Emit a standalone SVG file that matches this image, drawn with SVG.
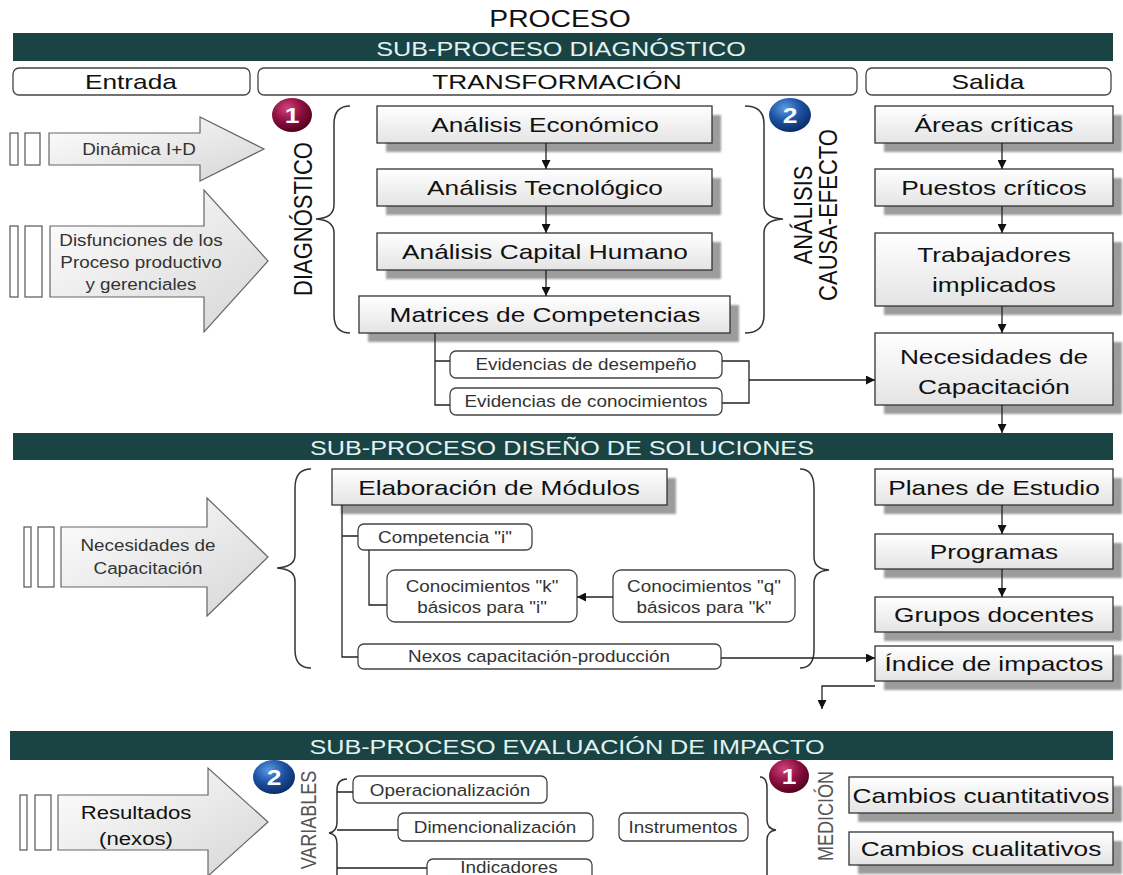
<svg xmlns="http://www.w3.org/2000/svg" width="1123" height="875" viewBox="0 0 1123 875">
<defs>
<style>
text{font-family:"Liberation Sans",Arial,sans-serif}
.tb{font-size:21px;fill:#111;text-anchor:middle;transform:scaleX(1.25);transform-box:fill-box;transform-origin:center}
.ts{font-size:17px;fill:#333;text-anchor:middle;transform:scaleX(1.11);transform-box:fill-box;transform-origin:center}
.tbar{font-size:21px;fill:#e4f2f2;text-anchor:middle;transform:scaleX(1.2);transform-box:fill-box;transform-origin:center}
.tnum{font-size:22px;font-weight:bold;fill:#fff;text-anchor:middle;transform:scaleX(1.2);transform-box:fill-box;transform-origin:center}
.tv{font-size:22px;fill:#111;text-anchor:middle}
.tvg{font-size:18px;fill:#555;text-anchor:middle}
.bar{fill:#1a4343}
.hdr{fill:#fff;stroke:#444;stroke-width:1.3}
.box{fill:url(#gBox);stroke:#333;stroke-width:1.3}
.sh{fill:#9c9c9c;filter:url(#blur)}
.rb{fill:#fff;stroke:#444;stroke-width:1.3}
.bigarrow{fill:url(#gArrow);stroke:#666;stroke-width:1.2}
.tick{fill:#fff;stroke:#555;stroke-width:1.2}
.conn{fill:none;stroke:#222;stroke-width:1.3}
.arr{marker-end:url(#ah)}
.brace{fill:none;stroke:#333;stroke-width:1.5}
</style>
<linearGradient id="gBox" x1="0" y1="0" x2="0" y2="1">
<stop offset="0" stop-color="#ffffff"/><stop offset="1" stop-color="#e4e4e4"/>
</linearGradient>
<linearGradient id="gArrow" x1="0" y1="0" x2="1" y2="1">
<stop offset="0" stop-color="#ffffff"/><stop offset="1" stop-color="#d6d6d6"/>
</linearGradient>
<radialGradient id="gRed" cx="0.38" cy="0.3" r="0.75">
<stop offset="0" stop-color="#d2437a"/><stop offset="0.5" stop-color="#8e1042"/><stop offset="1" stop-color="#4c0019"/>
</radialGradient>
<radialGradient id="gBlue" cx="0.38" cy="0.3" r="0.75">
<stop offset="0" stop-color="#5b9be3"/><stop offset="0.5" stop-color="#1d52a3"/><stop offset="1" stop-color="#0a2a62"/>
</radialGradient>
<filter id="blur" x="-5%" y="-20%" width="110%" height="140%"><feGaussianBlur stdDeviation="1.2"/></filter>
<marker id="ah" viewBox="0 0 10 10" refX="10" refY="5" markerWidth="10" markerHeight="9" markerUnits="userSpaceOnUse" orient="auto"><path d="M0,0 L10,5 L0,10 z" fill="#111"/></marker>
</defs>

<rect width="1123" height="875" fill="#fff"/>

<g id="title">
<text x="560" y="27" style="font-size:23px;fill:#111;text-anchor:middle;transform:scaleX(1.23);transform-box:fill-box;transform-origin:center">PROCESO</text>
</g>

<g id="bar1"><rect class="bar" x="13" y="33" width="1100" height="28"/><text class="tbar" x="561" y="56">SUB-PROCESO DIAGNÓSTICO</text></g>

<g id="hdr-entrada"><rect class="hdr" x="13" y="68" width="237" height="27" rx="6"/><text class="tb" x="131" y="89">Entrada</text></g>
<g id="hdr-transformacion"><rect class="hdr" x="258" y="68" width="599" height="27" rx="6"/><text class="tb" x="557" y="89">TRANSFORMACIÓN</text></g>
<g id="hdr-salida"><rect class="hdr" x="866" y="68" width="245" height="27" rx="6"/><text class="tb" x="988" y="89">Salida</text></g>

<!-- Section 1 inputs -->
<g id="in-dinamica">
<rect class="tick" x="10" y="133" width="8" height="32"/><rect class="tick" x="25" y="133" width="15" height="32"/>
<polygon class="bigarrow" points="49,133 200,133 200,117 264,149 200,181 200,165 49,165"/>
<text class="ts" x="139" y="155">Dinámica I+D</text>
</g>
<g id="in-disfunciones">
<rect class="tick" x="10" y="226" width="8" height="71"/><rect class="tick" x="25" y="226" width="17" height="71"/>
<polygon class="bigarrow" points="50,226 204,226 204,190 268,261 204,332 204,297 50,297"/>
<text class="ts" x="141" y="246">Disfunciones de los</text>
<text class="ts" x="141" y="268">Proceso productivo</text>
<text class="ts" x="141" y="290">y gerenciales</text>
</g>

<g id="badge1a"><ellipse cx="292" cy="115" rx="20" ry="17" fill="url(#gRed)"/><text class="tnum" x="292" y="123">1</text></g>
<g id="badge2a"><ellipse cx="790" cy="115" rx="21" ry="17" fill="url(#gBlue)"/><text class="tnum" x="790" y="123">2</text></g>

<g id="lbl-diagnostico">
<path class="brace" d="M350,106 Q334,106 334,124 L334,205 Q334,218 316,219 Q334,220 334,233 L334,315 Q334,333 350,333"/>
<text class="tv" transform="translate(312,219) rotate(-90) scale(1,1.2)" x="0" y="0">DIAGNÓSTICO</text>
</g>
<g id="lbl-causa">
<path class="brace" d="M745,106 Q764,106 764,124 L764,205 Q764,218 783,219 Q764,220 764,233 L764,315 Q764,333 745,333"/>
<text class="tv" transform="translate(812,215) rotate(-90) scale(1,1.2)" x="0" y="0">ANÁLISIS</text>
<text class="tv" transform="translate(837,215) rotate(-90) scale(1,1.2)" x="0" y="0">CAUSA-EFECTO</text>
</g>

<g id="n-eco"><rect class="sh" x="386" y="115" width="335" height="37"/><rect class="box" x="377" y="106" width="335" height="37"/><text class="tb" x="545" y="132">Análisis Económico</text></g>
<g id="n-tec"><rect class="sh" x="386" y="178" width="335" height="37"/><rect class="box" x="377" y="169" width="335" height="37"/><text class="tb" x="545" y="195">Análisis Tecnológico</text></g>
<g id="n-cap"><rect class="sh" x="386" y="242" width="335" height="37"/><rect class="box" x="377" y="233" width="335" height="37"/><text class="tb" x="545" y="259">Análisis Capital Humano</text></g>
<g id="n-mat"><rect class="sh" x="368" y="305" width="371" height="37"/><rect class="box" x="359" y="296" width="371" height="37"/><text class="tb" x="545" y="322">Matrices de Competencias</text></g>

<g id="n-evd"><rect class="rb" x="450" y="351" width="272" height="27" rx="6"/><text class="ts" x="586" y="370">Evidencias de desempeño</text></g>
<g id="n-evc"><rect class="rb" x="450" y="388" width="272" height="27" rx="6"/><text class="ts" x="586" y="407">Evidencias de conocimientos</text></g>

<g id="n-areas"><rect class="sh" x="884" y="115" width="238" height="37"/><rect class="box" x="875" y="106" width="238" height="37"/><text class="tb" x="994" y="132">Áreas críticas</text></g>
<g id="n-puestos"><rect class="sh" x="884" y="178" width="238" height="37"/><rect class="box" x="875" y="169" width="238" height="37"/><text class="tb" x="994" y="195">Puestos críticos</text></g>
<g id="n-trab"><rect class="sh" x="884" y="242" width="238" height="73"/><rect class="box" x="875" y="233" width="238" height="73"/><text class="tb" x="994" y="262">Trabajadores</text><text class="tb" x="994" y="292">implicados</text></g>
<g id="n-nec"><rect class="sh" x="884" y="342" width="238" height="72"/><rect class="box" x="875" y="333" width="238" height="72"/><text class="tb" x="994" y="364">Necesidades de</text><text class="tb" x="994" y="394">Capacitación</text></g>

<g id="bar2"><rect class="bar" x="13" y="433" width="1100" height="27"/><text class="tbar" x="562" y="455">SUB-PROCESO DISEÑO DE SOLUCIONES</text></g>

<g id="in-necesidades">
<rect class="tick" x="24" y="527" width="7" height="60"/><rect class="tick" x="38" y="527" width="16" height="60"/>
<polygon class="bigarrow" points="61,527 207,527 207,498 268,557 207,616 207,587 61,587"/>
<text class="ts" x="148" y="551">Necesidades de</text>
<text class="ts" x="148" y="574">Capacitación</text>
</g>

<g id="braces2">
<path class="brace" d="M311,469 Q295,469 295,488 L295,555 Q295,567 277,568 Q295,569 295,581 L295,650 Q295,668 311,668"/>
<path class="brace" d="M800,469 Q814,469 814,488 L814,557 Q814,569 829,570 Q814,571 814,583 L814,650 Q814,668 800,668"/>
</g>

<g id="n-elab"><rect class="sh" x="341" y="478" width="335" height="36"/><rect class="box" x="332" y="469" width="335" height="36"/><text class="tb" x="499" y="495">Elaboración de Módulos</text></g>
<g id="n-comp"><rect class="rb" x="358" y="524" width="174" height="26" rx="6"/><text class="ts" x="445" y="543">Competencia "i"</text></g>
<g id="n-conk"><rect class="rb" x="387" y="570" width="190" height="52" rx="8"/><text class="ts" x="482" y="592">Conocimientos "k"</text><text class="ts" x="482" y="613">básicos para "i"</text></g>
<g id="n-conq"><rect class="rb" x="613" y="570" width="182" height="52" rx="8"/><text class="ts" x="704" y="592">Conocimientos "q"</text><text class="ts" x="704" y="613">básicos para "k"</text></g>
<g id="n-nexos"><rect class="rb" x="358" y="644" width="363" height="25" rx="6"/><text class="ts" x="539" y="662">Nexos capacitación-producción</text></g>

<g id="n-planes"><rect class="sh" x="884" y="478" width="238" height="36"/><rect class="box" x="875" y="469" width="238" height="36"/><text class="tb" x="994" y="495">Planes de Estudio</text></g>
<g id="n-prog"><rect class="sh" x="884" y="543" width="238" height="35"/><rect class="box" x="875" y="534" width="238" height="35"/><text class="tb" x="994" y="559">Programas</text></g>
<g id="n-grupos"><rect class="sh" x="884" y="606" width="238" height="35"/><rect class="box" x="875" y="597" width="238" height="35"/><text class="tb" x="994" y="622">Grupos docentes</text></g>
<g id="n-indice"><rect class="sh" x="884" y="655" width="238" height="35"/><rect class="box" x="875" y="646" width="238" height="35"/><text class="tb" x="994" y="671">Índice de impactos</text></g>

<g id="bar3"><rect class="bar" x="10" y="731" width="1103" height="29"/><text class="tbar" x="567" y="754">SUB-PROCESO EVALUACIÓN DE IMPACTO</text></g>

<g id="in-resultados">
<rect class="tick" x="20" y="795" width="7" height="55"/><rect class="tick" x="35" y="795" width="16" height="55"/>
<polygon class="bigarrow" points="58,795 208,795 208,768 268,822 208,876 208,850 58,850"/>
<text x="136" y="819" style="font-size:18px;fill:#111;text-anchor:middle;transform:scaleX(1.23);transform-box:fill-box;transform-origin:center">Resultados</text>
<text x="136" y="845" style="font-size:18px;fill:#111;text-anchor:middle;transform:scaleX(1.23);transform-box:fill-box;transform-origin:center">(nexos)</text>
</g>

<g id="badge2b"><ellipse cx="274" cy="777" rx="21" ry="17" fill="url(#gBlue)"/><text class="tnum" x="274" y="785">2</text></g>
<g id="badge1b"><ellipse cx="789" cy="776" rx="20" ry="17" fill="url(#gRed)"/><text class="tnum" x="789" y="784">1</text></g>

<g id="lbl-variables">
<text class="tvg" transform="translate(316,820) rotate(-90) scale(1,1.2)" x="0" y="0">VARIABLES</text>
<path class="brace" d="M347,779 Q337,779 337,790 L337,822 Q337,832 329,833 Q337,834 337,844 L337,880"/>
</g>
<g id="lbl-medicion">
<path class="brace" d="M760,777 Q767,777 767,788 L767,820 Q767,829 776,830 Q767,831 767,840 L767,880"/>
<text class="tvg" transform="translate(833,816) rotate(-90) scale(1,1.2)" x="0" y="0">MEDICIÓN</text>
</g>

<g id="n-oper"><rect class="rb" x="353" y="776" width="194" height="27" rx="6"/><text class="ts" x="450" y="796">Operacionalización</text></g>
<g id="n-dim"><rect class="rb" x="398" y="813" width="195" height="28" rx="6"/><text class="ts" x="495" y="833">Dimencionalización</text></g>
<g id="n-ind"><rect class="rb" x="427" y="859" width="165" height="28" rx="6"/><text class="ts" x="509" y="873">Indicadores</text></g>
<g id="n-instr"><rect class="rb" x="619" y="813" width="129" height="28" rx="6"/><text class="ts" x="683" y="833">Instrumentos</text></g>

<g id="n-cuant"><rect class="sh" x="858" y="786" width="264" height="36"/><rect class="box" x="849" y="777" width="264" height="36"/><text class="tb" x="981" y="803">Cambios cuantitativos</text></g>
<g id="n-cual"><rect class="sh" x="858" y="841" width="264" height="33"/><rect class="box" x="849" y="832" width="264" height="33"/><text class="tb" x="981" y="856">Cambios cualitativos</text></g>

<g id="connectors">
<path class="conn arr" d="M546,143 V169"/>
<path class="conn arr" d="M546,206 V233"/>
<path class="conn arr" d="M546,270 V296"/>
<path class="conn" d="M435,333 V405 H450 M435,361 H450"/>
<path class="conn" d="M722,361 H749 V403 H722"/>
<path class="conn arr" d="M749,380 H875"/>
<path class="conn arr" d="M1002,143 V169"/>
<path class="conn arr" d="M1002,206 V233"/>
<path class="conn arr" d="M1002,306 V333"/>
<path class="conn arr" d="M1002,405 V433"/>
<path class="conn" d="M342,505 V657 H358 M342,536 H358"/>
<path class="conn" d="M369,550 V605 H387"/>
<path class="conn arr" d="M613,597 H577"/>
<path class="conn arr" d="M721,658 H875"/>
<path class="conn arr" d="M875,686 H822 V709"/>
<path class="conn arr" d="M1002,505 V534"/>
<path class="conn arr" d="M1002,569 V597"/>
<path class="conn" d="M337,792 H353 M337,830 H398 M337,868 H427"/>
</g>
</svg>
